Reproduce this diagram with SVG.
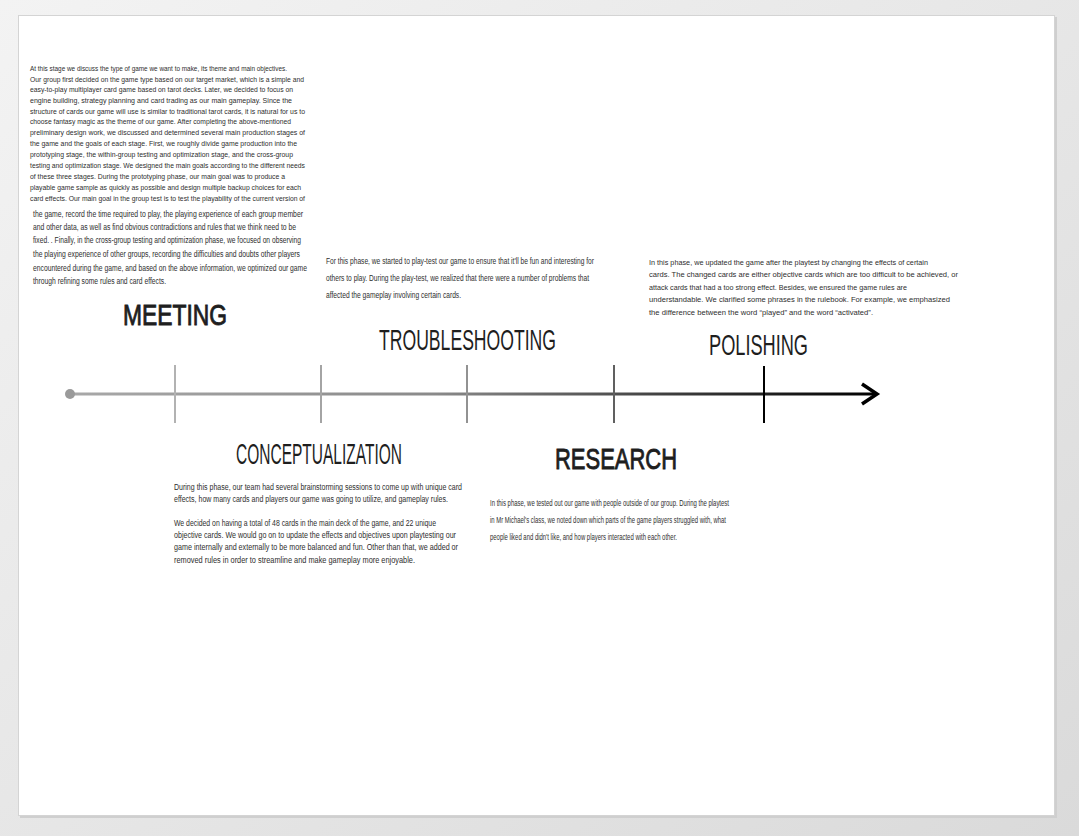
<svg xmlns="http://www.w3.org/2000/svg" width="1079" height="836" viewBox="0 0 1079 836">
  <defs>
    <linearGradient id="bg" x1="0" y1="0" x2="1" y2="1">
      <stop offset="0" stop-color="#f3f3f3"/>
      <stop offset="1" stop-color="#dadada"/>
    </linearGradient>
    <linearGradient id="axis" gradientUnits="userSpaceOnUse" x1="70" y1="0" x2="878" y2="0">
      <stop offset="0" stop-color="#a8a8a8"/>
      <stop offset="0.45" stop-color="#8a8a8a"/>
      <stop offset="0.85" stop-color="#222"/>
      <stop offset="1" stop-color="#000"/>
    </linearGradient>
    <style>
      .body { font-family: "Liberation Sans", Arial, sans-serif; fill: #2e2e2e; }
      .s8 { font-size: 8px; }
      .s85 { font-size: 8.4px; }
      .s82 { font-size: 7.9px; }
      .s10 { font-size: 9.6px; }
      .head { font-family: "Liberation Sans", Arial, sans-serif; fill: #1e1e1e; font-size: 30px; }
      .heavy { stroke: #1e1e1e; stroke-width: 0.9; }
      .tick { stroke-width: 2; }
    </style>
  </defs>

  <!-- surrounding canvas and page -->
  <rect x="0" y="0" width="1079" height="836" fill="url(#bg)"/>
  <rect x="20" y="17" width="1037" height="801" fill="#cfcfcf"/>
  <rect x="18.5" y="15.5" width="1036" height="800" fill="#ffffff" stroke="#d4d4d4"/>

  <!-- timeline axis -->
  <g id="connectors">
    <line x1="70" y1="394" x2="875" y2="394" stroke="url(#axis)" stroke-width="3"/>
    <circle cx="70" cy="394" r="5" fill="#9a9a9a"/>
    <polyline points="862,384 877,394 862,404" fill="none" stroke="#000" stroke-width="3.5" stroke-linejoin="miter"/>
    <line class="tick" x1="175" y1="365" x2="175" y2="423" stroke="#b2b2b2"/>
    <line class="tick" x1="321" y1="365" x2="321" y2="423" stroke="#a4a4a4"/>
    <line class="tick" x1="467" y1="365" x2="467" y2="423" stroke="#929292"/>
    <line class="tick" x1="614" y1="365" x2="614" y2="423" stroke="#606060"/>
    <line class="tick" x1="764" y1="366" x2="764" y2="423" stroke="#000"/>
  </g>

  <!-- stage: meeting -->
  <g id="meeting">
    <text class="head heavy" x="123" y="325" textLength="104" lengthAdjust="spacingAndGlyphs">MEETING</text>
    <g class="body s8">
      <text x="30" y="71" textLength="257" lengthAdjust="spacingAndGlyphs">At this stage we discuss the type of game we want to make, its theme and main objectives.</text>
      <text x="30" y="82" textLength="274" lengthAdjust="spacingAndGlyphs">Our group first decided on the game type based on our target market, which is a simple and</text>
      <text x="30" y="92" textLength="263" lengthAdjust="spacingAndGlyphs">easy-to-play multiplayer card game based on tarot decks. Later, we decided to focus on</text>
      <text x="30" y="103" textLength="262" lengthAdjust="spacingAndGlyphs">engine building, strategy planning and card trading as our main gameplay. Since the</text>
      <text x="30" y="114" textLength="275" lengthAdjust="spacingAndGlyphs">structure of cards our game will use is  similar to traditional tarot cards, it is natural for us to</text>
      <text x="30" y="124" textLength="261" lengthAdjust="spacingAndGlyphs">choose fantasy magic as the theme of our game. After completing the above-mentioned</text>
      <text x="30" y="135" textLength="275" lengthAdjust="spacingAndGlyphs">preliminary design work, we discussed and determined several main production stages of</text>
      <text x="30" y="146" textLength="267" lengthAdjust="spacingAndGlyphs">the game and the goals of each stage. First, we roughly divide game production into the</text>
      <text x="30" y="157" textLength="263" lengthAdjust="spacingAndGlyphs">prototyping stage, the within-group testing and optimization stage, and the cross-group</text>
      <text x="30" y="168" textLength="275" lengthAdjust="spacingAndGlyphs">testing and optimization stage. We designed the main goals according to the different needs</text>
      <text x="30" y="179" textLength="255" lengthAdjust="spacingAndGlyphs">of these three stages. During the prototyping phase, our main goal was to produce a</text>
      <text x="30" y="190" textLength="271" lengthAdjust="spacingAndGlyphs">playable game sample as quickly as possible and design multiple backup choices for each</text>
      <text x="30" y="201" textLength="275" lengthAdjust="spacingAndGlyphs">card effects. Our main goal in the group test is to test the playability of the current version of</text>
    </g>
    <g class="body s85">
      <text x="33" y="217" textLength="270" lengthAdjust="spacingAndGlyphs">the game, record the time required to play, the playing experience of each group member</text>
      <text x="33" y="230" textLength="263" lengthAdjust="spacingAndGlyphs">and other data, as well as find obvious contradictions and rules that we think need to be</text>
      <text x="33" y="243" textLength="268" lengthAdjust="spacingAndGlyphs">fixed. . Finally, in the cross-group testing and optimization phase, we focused on observing</text>
      <text x="33" y="257" textLength="267" lengthAdjust="spacingAndGlyphs">the playing experience of other groups, recording the difficulties and doubts other players</text>
      <text x="33" y="271" textLength="274" lengthAdjust="spacingAndGlyphs">encountered during the game, and based on the above information, we optimized our game</text>
      <text x="33" y="284" textLength="133" lengthAdjust="spacingAndGlyphs">through refining some rules and card effects.</text>
    </g>
  </g>

  <!-- stage: conceptualization -->
  <g id="conceptualization">
    <text class="head" x="236" y="464" textLength="166" lengthAdjust="spacingAndGlyphs">CONCEPTUALIZATION</text>
    <g class="body s85">
      <text x="174" y="490" textLength="288" lengthAdjust="spacingAndGlyphs">During this phase, our team had several brainstorming sessions to come up with unique card</text>
      <text x="174" y="502" textLength="274" lengthAdjust="spacingAndGlyphs">effects, how many cards and players our game was going to utilize, and gameplay rules.</text>
      <text x="174" y="526" textLength="262" lengthAdjust="spacingAndGlyphs">We decided on having a total of 48 cards in the main deck of the game, and 22 unique</text>
      <text x="174" y="538" textLength="282" lengthAdjust="spacingAndGlyphs">objective cards. We would go on to update the effects and objectives upon playtesting our</text>
      <text x="174" y="550" textLength="284" lengthAdjust="spacingAndGlyphs">game internally and externally to be more balanced and fun. Other than that, we added or</text>
      <text x="174" y="563" textLength="241" lengthAdjust="spacingAndGlyphs">removed rules in order to streamline and make gameplay more enjoyable.</text>
    </g>
  </g>

  <!-- stage: troubleshooting (narrow face: horizontally condensed block) -->
  <g id="troubleshooting">
    <text class="head" x="379" y="350" textLength="177" lengthAdjust="spacingAndGlyphs">TROUBLESHOOTING</text>
    <g class="body s10" transform="translate(326 0) scale(0.7 1)">
      <text x="0" y="264" textLength="382.9" lengthAdjust="spacingAndGlyphs">For this phase, we started to play-test our game to ensure that it'll be fun and interesting for</text>
      <text x="0" y="281" textLength="375.7" lengthAdjust="spacingAndGlyphs">others to play. During the play-test, we realized that there were a number of problems that</text>
      <text x="0" y="298" textLength="192.9" lengthAdjust="spacingAndGlyphs">affected the gameplay involving certain cards.</text>
    </g>
  </g>

  <!-- stage: research (narrow face: horizontally condensed block) -->
  <g id="research">
    <text class="head heavy" x="555" y="469" textLength="122" lengthAdjust="spacingAndGlyphs">RESEARCH</text>
    <g class="body s10" transform="translate(490 0) scale(0.7 1)">
      <text x="0" y="506" textLength="341.4" lengthAdjust="spacingAndGlyphs">In this phase, we tested out our game with people outside of our group. During the playtest</text>
      <text x="0" y="523" textLength="337.1" lengthAdjust="spacingAndGlyphs">in Mr Michael's class, we noted down which parts of the game players struggled with, what</text>
      <text x="0" y="540" textLength="267.1" lengthAdjust="spacingAndGlyphs">people liked and didn't like, and how players interacted with each other.</text>
    </g>
  </g>

  <!-- stage: polishing -->
  <g id="polishing">
    <text class="head" x="709" y="355" textLength="99" lengthAdjust="spacingAndGlyphs">POLISHING</text>
    <g class="body s82">
      <text x="649" y="264.5" textLength="279" lengthAdjust="spacingAndGlyphs">In this phase, we updated the game after the playtest by changing the effects of certain</text>
      <text x="649" y="277" textLength="309" lengthAdjust="spacingAndGlyphs">cards. The changed cards are either objective cards which are too difficult to be achieved, or</text>
      <text x="649" y="289.5" textLength="258" lengthAdjust="spacingAndGlyphs">attack cards that had a too strong effect. Besides, we ensured the game rules are</text>
      <text x="649" y="302" textLength="301" lengthAdjust="spacingAndGlyphs">understandable. We clarified some phrases in the rulebook. For example, we emphasized</text>
      <text x="649" y="314.5" textLength="224" lengthAdjust="spacingAndGlyphs">the difference between the word “played” and the word “activated”.</text>
    </g>
  </g>
</svg>
